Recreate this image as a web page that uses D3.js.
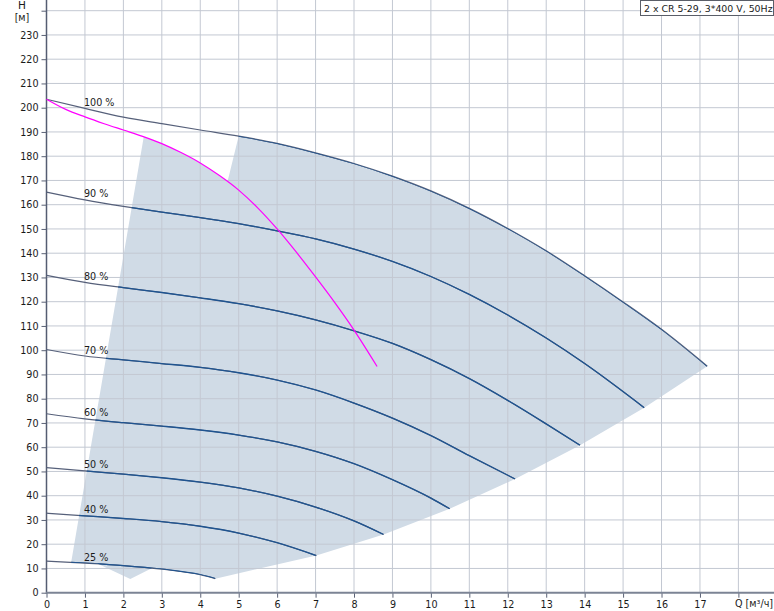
<!DOCTYPE html>
<html>
<head>
<meta charset="utf-8">
<script src="https://cdn.jsdelivr.net/npm/d3@7"></script>
<style>
  html, body { margin: 0; padding: 0; background: #fff; }
  svg { display: block; }
  text { font-family: "DejaVu Sans", Verdana, sans-serif; fill: #1a1a1a; }
</style>
</head>
<body>
<div id="chart"></div>
<script>
// ---------- data (Q in m³/h, H in m) ----------
const qTicks = d3.range(0, 19, 1);
const hTicks = d3.range(0, 250, 10);
const speedLabels = ["100 %", "90 %", "80 %", "70 %", "60 %", "50 %", "40 %", "25 %"];

const curve100 = [[0,203.5],[1,199.7],[2,196.1],[3,193.4],[4,190.8],[5,188.3],[6,185.3],[7,181.4],[8,177.0],[9,171.8],[10,165.7],[11,158.5],[12,150.2],[13,141.0],[14,130.7],[15,119.9],[16,108.6],[17.19,93.4]];
const curve90  = [[0,165.2],[1,162.0],[2,159.3],[3,156.9],[4,154.7],[5,152.2],[6,149.2],[7,145.9],[8,141.7],[9,136.6],[10,130.4],[11,123.0],[12,114.5],[13,105.0],[14,94.5],[15.55,76.3]];
const curve80  = [[0,130.9],[1,128.0],[2,125.8],[3,123.8],[4,121.6],[5,119.2],[6,116.2],[7,112.5],[8,108.0],[9,102.8],[10,96.1],[11,88.3],[12,79.3],[13,69.6],[13.88,60.8]];
const curve70  = [[0,100.3],[1,97.6],[2,96.0],[3,94.5],[4,92.9],[5,90.7],[6,87.7],[7,83.6],[8,78.2],[9,72.0],[10,64.8],[11,56.5],[12.19,46.9]];
const curve60  = [[0,73.8],[1,71.7],[2,70.1],[3,68.7],[4,67.1],[5,65.0],[6,62.2],[7,58.3],[8,53.2],[9,46.6],[10,39.0],[10.49,34.6]];
const curve50  = [[0,51.6],[1,50.2],[2,48.9],[3,47.4],[4,45.6],[5,43.2],[6,39.8],[7,35.3],[8,29.6],[8.77,24.0]];
const curve40  = [[0,32.8],[1,31.7],[2,30.6],[3,29.3],[4,27.4],[5,24.6],[6,20.6],[7.02,15.3]];
const curve25  = [[0,13.0],[1,12.2],[2,11.2],[3,9.7],[4,7.4],[4.39,5.8]];
const speedCurves = [curve100, curve90, curve80, curve70, curve60, curve50, curve40, curve25];

// magenta system / reference curve
const systemCurve = [[0,203.5],[0.5,199.3],[1,196.2],[1.5,193.4],[2,190.8],[2.5,188.2],[3,185.2],[3.5,181.5],[4,177.2],[4.5,172.0],[5,166.0],[5.5,158.6],[6,150.0],[6.5,140.4],[7,130.2],[7.5,119.6],[8,108.3],[8.6,93.3]];

// shaded operating range (Q,H outline)
const rangeOutline = [
  [2.53,188.0],[3,185.2],[3.5,181.5],[4,177.2],[4.5,172.0],[4.71,169.6],
  [5.0,188.3],[6,185.3],[7,181.4],[8,177.0],[9,171.8],[10,165.7],[11,158.5],[12,150.2],[13,141.0],[14,130.7],[15,119.9],[16,108.6],[17.19,93.4],
  [15.55,76.3],[13.88,60.8],[12.19,46.9],[10.49,34.6],[8.77,24.0],[7.02,15.3],[4.39,5.8],
  [4,7.4],[3,9.7],[2.75,10.2],[2.18,5.7],[1.32,12.0],[0.64,12.4]
];

const legendText = "2 x CR 5-29, 3*400 V, 50Hz";
const yTitle = "H";
const yUnit = "[м]";
const xTitle = "Q [м³/ч]";

// ---------- layout ----------
const W = 774, H = 611;
const x = d3.scaleLinear().domain([0, 18]).range([46.5, 738.4]);
const y = d3.scaleLinear().domain([0, 240]).range([592.7, 10.7]);
const plotRight = 774, plotTop = 0;

const svg = d3.select("#chart").append("svg").attr("width", W).attr("height", H);
svg.append("rect").attr("width", W).attr("height", H).attr("fill", "#fff");

const poly = d3.line().x(d => x(d[0])).y(d => y(d[1]));
const smooth = d3.line().x(d => x(d[0])).y(d => y(d[1])).curve(d3.curveMonotoneX);

// shaded region
svg.append("clipPath").attr("id", "rangeClip")
  .append("path").attr("d", poly(rangeOutline) + "Z");
svg.append("path").attr("d", poly(rangeOutline) + "Z")
  .attr("fill", "#d0dbe6").attr("stroke", "none");

// grid
const grid = svg.append("g").attr("stroke", "#c3c8d2").attr("stroke-width", 1);
grid.selectAll("line.v").data(qTicks.filter(d => d > 0)).join("line")
  .attr("x1", d => x(d)).attr("x2", d => x(d))
  .attr("y1", plotTop).attr("y2", y(0));
grid.selectAll("line.h").data(hTicks.filter(d => d > 0)).join("line")
  .attr("x1", x(0)).attr("x2", plotRight)
  .attr("y1", d => y(d)).attr("y2", d => y(d));

// axes
const yAxis = d3.axisLeft(y).tickValues(hTicks).tickSize(5).tickPadding(3)
  .tickFormat(d => d === 240 ? "" : d);
const gy = svg.append("g").attr("transform", `translate(${x(0)},0)`).call(yAxis);
gy.select(".domain").remove();
gy.selectAll(".tick line").attr("stroke", "#5b6276");
gy.selectAll(".tick text").attr("font-size", "9.6px").attr("font-family", "DejaVu Sans, Verdana, sans-serif").attr("fill", "#1a1a1a");

const xAxis = d3.axisBottom(x).tickValues(qTicks).tickSize(5).tickPadding(3)
  .tickFormat(d => d === 18 ? "" : d);
const gx = svg.append("g").attr("transform", `translate(0,${y(0)})`).call(xAxis);
gx.select(".domain").remove();
gx.selectAll(".tick line").attr("stroke", "#5b6276");
gx.selectAll(".tick text").attr("font-size", "9.6px").attr("font-family", "DejaVu Sans, Verdana, sans-serif").attr("fill", "#1a1a1a");

svg.append("line").attr("x1", x(0)).attr("x2", x(0)).attr("y1", plotTop).attr("y2", y(0) + 1)
  .attr("stroke", "#555d72").attr("stroke-width", 1.5);
svg.append("line").attr("x1", x(0) - 0.5).attr("x2", plotRight).attr("y1", y(0)).attr("y2", y(0))
  .attr("stroke", "#7c8495").attr("stroke-width", 2);

svg.append("text").attr("x", 735).attr("y", 607).attr("font-size", "9.6px").text(xTitle);
svg.append("text").attr("x", 22).attr("y", 9).attr("text-anchor", "middle").attr("font-size", "10.5px").text(yTitle);
svg.append("text").attr("x", 22).attr("y", 21).attr("text-anchor", "middle").attr("font-size", "9.6px").text(yUnit);

// speed curves: grey outside the range, blue inside
const curvesG = svg.append("g").attr("fill", "none");
curvesG.selectAll("path.out").data(speedCurves).join("path")
  .attr("d", smooth).attr("stroke", "#56607a").attr("stroke-width", 1.2);
curvesG.append("g").attr("clip-path", "url(#rangeClip)")
  .selectAll("path").data(speedCurves).join("path")
  .attr("d", smooth).attr("stroke", "#1f5490").attr("stroke-width", 1.3);

// system curve
svg.append("path").datum(systemCurve).attr("d", smooth)
  .attr("fill", "none").attr("stroke", "#ff00ff").attr("stroke-width", 1.2);

// speed labels (placed just above curve at Q=1)
svg.selectAll("text.sp").data(speedCurves).join("text")
  .attr("x", x(1) - 1)
  .attr("y", d => y(d[1][1]) - 2.5)
  .attr("font-size", "9.6px")
  .text((d, i) => speedLabels[i]);

// legend box
svg.append("rect").attr("x", 640.5).attr("y", 0.5).attr("width", 133).attr("height", 15)
  .attr("fill", "#fff").attr("stroke", "#5a5e68").attr("stroke-width", 1);
svg.append("text").attr("x", 644).attr("y", 12).attr("font-size", "9.4px").text(legendText);
</script>
</body>
</html>
